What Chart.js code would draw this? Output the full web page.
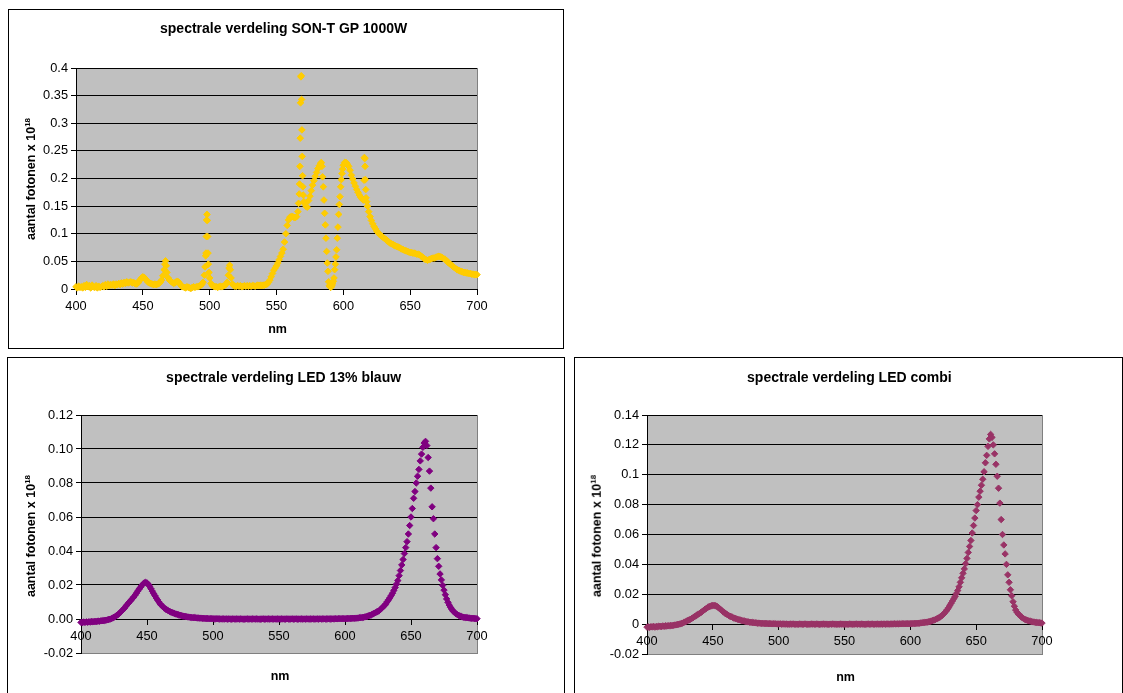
<!DOCTYPE html>
<html>
<head>
<meta charset="utf-8">
<script src="https://cdn.jsdelivr.net/npm/chart.js@4.4.1/dist/chart.umd.min.js"></script>
<style>
  body { margin: 0; width: 1123px; height: 693px; overflow: hidden; position: relative; background: #fff;
         font-family: 'Liberation Sans', Arial, sans-serif; }
  .box { position: absolute; border: 1px solid #000; box-sizing: border-box; background: #fff; }
  .box canvas { position: absolute; left: 0; top: 0; }
  .lbl { position: absolute; transform: translate(-50%, -50%); white-space: nowrap; font-weight: bold; color: #000; line-height: 1; }
  .title { font-size: 14px; }
  .axt { font-size: 12.5px; }
  .yt { transform: translate(-50%, -50%) rotate(-90deg); }
  .yt sup { font-size: 8px; vertical-align: 5px; line-height: 0; }
</style>
</head>
<body>

<div class="box" style="left:8px;top:9px;width:556px;height:340px"><canvas id="sont" width="554" height="338"></canvas></div>
<div class="box" style="left:7px;top:357px;width:558px;height:345px"><canvas id="led13" width="556" height="343"></canvas></div>
<div class="box" style="left:574px;top:357px;width:549px;height:345px"><canvas id="ledCombi" width="547" height="343"></canvas></div>

<div class="lbl title" style="left:283.6px;top:28.3px">spectrale verdeling SON-T GP 1000W</div>
<div class="lbl axt" style="left:277.5px;top:329.3px">nm</div>
<div class="lbl axt yt" style="left:31px;top:179px">aantal fotonen x 10<sup>18</sup></div>

<div class="lbl title" style="left:283.6px;top:377.3px">spectrale verdeling LED 13% blauw</div>
<div class="lbl axt" style="left:280px;top:676px">nm</div>
<div class="lbl axt yt" style="left:31px;top:535.8px">aantal fotonen x 10<sup>18</sup></div>

<div class="lbl title" style="left:849.4px;top:377.3px">spectrale verdeling LED combi</div>
<div class="lbl axt" style="left:845.5px;top:676.7px">nm</div>
<div class="lbl axt yt" style="left:597px;top:535.8px">aantal fotonen x 10<sup>18</sup></div>

<script>
// ---- data ----
const nmTicks = [400, 450, 500, 550, 600, 650, 700];
const sontYTicks = [0, 0.05, 0.1, 0.15, 0.2, 0.25, 0.3, 0.35, 0.4];
const led13YTicks = [-0.02, 0, 0.02, 0.04, 0.06, 0.08, 0.1, 0.12];
const ledCombiYTicks = [-0.02, 0, 0.02, 0.04, 0.06, 0.08, 0.1, 0.12, 0.14];

// SON-T: wavelengths (nm) and photon counts, denser around the emission lines
const sontNm = [
  400,401,402,403,404,405,406,407,408,409,410,411,412,413,414,415,416,417,418,419,
  420,421,422,423,424,425,426,427,428,429,430,431,432,433,434,435,436,437,438,439,
  440,441,442,443,444,445,446,447,448,449,450,451,452,453,454,455,456,457,458,459,
  460,461,462,463,464,465,466,466.5,467,467.5,468,469,470,471,472,473,474,475,476,477,478,479,
  480,481,482,483,484,485,486,487,488,489,490,491,492,493,494,495,496,
  496.5,497,497.25,497.5,497.75,498,498.25,498.5,498.75,499,499.5,500,501,502,
  503,504,505,506,507,508,509,510,511,512,513,
  514,514.5,515,515.5,516,517,518,519,
  520,521,522,523,524,525,526,527,528,529,530,531,532,533,534,535,536,537,538,539,
  540,541,542,543,544,545,546,547,548,549,550,551,552,553,554,555,556,557,558,559,
  560,561,562,563,564,565,566,566.5,
  567,567.25,567.5,567.75,568,568.25,568.5,568.75,569,569.25,569.5,569.75,570,570.5,571,572,573,
  574,575,576,577,578,579,580,581,582,583,583.5,
  584,584.5,585,585.5,586,586.5,587,587.5,588,588.5,589,589.5,590,590.5,591,591.5,592,592.5,593,593.5,
  594,594.5,595,595.5,596,596.5,597,597.5,598,598.5,599,599.5,600,
  601,602,603,604,605,606,607,608,609,610,611,612,613,614,615,
  615.5,615.75,616,616.25,616.5,616.75,617,617.5,618,
  619,620,621,622,623,624,625,626,627,628,629,630,631,632,633,634,635,636,637,638,639,640,
  641,642,643,644,645,646,647,648,649,650,651,652,653,654,655,656,657,658,659,660,661,662,663,664,665,666,667,668,669,670,
  671,672,673,674,675,676,677,678,679,680,681,682,683,684,685,686,687,688,689,690,691,692,693,694,695,696,697,698,699,700
];
const sontVal = [
  .004,.002,.005,.003,.004,.002,.006,.003,.008,.004,.006,.002,.007,.004,.003,.006,.002,.005,.003,.004,
  .006,.004,.008,.005,.009,.006,.008,.007,.009,.006,.009,.008,.010,.008,.011,.009,.012,.010,.013,.011,
  .012,.013,.011,.012,.010,.009,.010,.013,.017,.020,.022,.021,.018,.015,.012,.011,.010,.009,.008,.009,
  .008,.009,.010,.012,.016,.024,.035,.045,.051,.042,.030,.020,.016,.014,.012,.010,.011,.013,.014,.012,.008,.005,
  .004,.003,.002,.004,.003,.002,.001,.003,.004,.003,.004,.004,.005,.006,.008,.012,.025,
  .040,.060,.065,.095,.125,.135,.124,.095,.065,.045,.030,.020,.010,.006,
  .005,.004,.004,.003,.004,.005,.004,.005,.006,.008,.012,
  .025,.038,.043,.035,.020,.009,.006,.005,
  .005,.006,.005,.006,.004,.005,.006,.005,.006,.005,.006,.005,.006,.006,.005,.006,.007,.006,.007,.006,
  .007,.007,.008,.009,.012,.016,.022,.028,.034,.038,.042,.047,.053,.059,.065,.072,.085,.100,.115,.125,
  .130,.131,.131,.130,.129,.131,.140,.155,
  .172,.190,.222,.273,.337,.384,.386,.343,.288,.240,.205,.185,.170,.158,.155,.150,.148,
  .160,.168,.178,.188,.196,.204,.211,.218,.223,.227,.229,
  .222,.203,.185,.161,.137,.116,.092,.068,.047,.032,.013,.006,.004,.003,.004,.007,.010,.014,.020,.035,
  .045,.058,.071,.092,.112,.135,.153,.167,.185,.198,.209,.217,.224,
  .229,.229,.226,.222,.215,.206,.199,.192,.186,.180,.175,.170,.166,.163,.161,
  .197,.238,.236,.222,.198,.180,.165,.158,.150,
  .140,.131,.124,.118,.113,.109,.105,.102,.099,.097,.095,.093,.091,.089,.087,.085,.083,.082,.081,.079,.078,.077,
  .076,.075,.073,.072,.071,.070,.069,.068,.067,.066,.066,.065,.065,.064,.063,.063,.062,.060,.058,.056,.054,.053,.052,.053,.054,.055,.056,.056,.057,.058,
  .059,.059,.058,.057,.055,.054,.052,.049,.047,.045,.043,.041,.039,.037,.035,.034,.033,.032,.031,.030,.030,.029,.029,.028,.028,.027,.027,.026,.026,.026
];

// LED spectra, one value per nm from 400 to 700
const ledNm = [
  400,401,402,403,404,405,406,407,408,409, 410,411,412,413,414,415,416,417,418,419,
  420,421,422,423,424,425,426,427,428,429, 430,431,432,433,434,435,436,437,438,439,
  440,441,442,443,444,445,446,447,448,449, 450,451,452,453,454,455,456,457,458,459,
  460,461,462,463,464,465,466,467,468,469, 470,471,472,473,474,475,476,477,478,479,
  480,481,482,483,484,485,486,487,488,489, 490,491,492,493,494,495,496,497,498,499,
  500,501,502,503,504,505,506,507,508,509, 510,511,512,513,514,515,516,517,518,519,
  520,521,522,523,524,525,526,527,528,529, 530,531,532,533,534,535,536,537,538,539,
  540,541,542,543,544,545,546,547,548,549, 550,551,552,553,554,555,556,557,558,559,
  560,561,562,563,564,565,566,567,568,569, 570,571,572,573,574,575,576,577,578,579,
  580,581,582,583,584,585,586,587,588,589, 590,591,592,593,594,595,596,597,598,599,
  600,601,602,603,604,605,606,607,608,609, 610,611,612,613,614,615,616,617,618,619,
  620,621,622,623,624,625,626,627,628,629, 630,631,632,633,634,635,636,637,638,639,
  640,641,642,643,644,645,646,647,648,649, 650,651,652,653,654,655,656,657,658,659,
  660,661,662,663,664,665,666,667,668,669, 670,671,672,673,674,675,676,677,678,679,
  680,681,682,683,684,685,686,687,688,689, 690,691,692,693,694,695,696,697,698,699,
  700
];
const led13Val = [
  -.0020,-.0021,-.0018,-.0020,-.0017,-.0019,-.0016,-.0018,-.0015,-.0016,
  -.0015,-.0014,-.0015,-.0012,-.0013,-.0011,-.0010,-.0010,-.0008,-.0007,
  -.0005,-.0003,-.0001,.0002,.0006,.0010,.0015,.0020,.0026,.0033,
  .0040,.0048,.0056,.0065,.0075,.0085,.0094,.0103,.0112,.0121,
  .0130,.0141,.0152,.0164,.0175,.0186,.0197,.0206,.0213,.0215,
  .0212,.0204,.0192,.0178,.0164,.0150,.0137,.0124,.0112,.0100,
  .0089,.0080,.0072,.0065,.0059,.0054,.0049,.0045,.0041,.0038,
  .0035,.0032,.0029,.0027,.0025,.0022,.0020,.0018,.0016,.0015,
  .0013,.0012,.0011,.0010,.0009,.0008,.0008,.0007,.0006,.0006,
  .0005,.0005,.0004,.0004,.0003,.0003,.0003,.0002,.0002,.0002,
  .0002,.0001,.0001,.0002,.0001,.0001,.0000,.0001,.0001,.0000,
  .0001,.0000,.0001,.0000,.0000,.0001,.0000,.0000,.0001,.0000,
  .0000,.0001,.0000,-.0001,.0000,.0000,.0001,.0000,.0000,.0000,
  .0001,.0000,.0000,.0001,.0000,-.0001,.0000,.0000,.0001,.0000,
  .0000,.0000,.0001,.0000,.0000,.0001,.0000,.0000,.0000,.0001,
  .0000,.0000,.0001,.0000,.0000,.0000,.0001,.0000,.0000,.0000,
  .0001,.0000,.0000,.0001,.0000,.0000,.0000,.0001,.0000,.0000,
  .0000,.0001,.0000,.0000,.0001,.0000,.0001,.0000,.0000,.0001,
  .0000,.0001,.0000,.0001,.0001,.0000,.0001,.0001,.0001,.0001,
  .0001,.0001,.0001,.0002,.0001,.0002,.0002,.0002,.0002,.0002,
  .0002,.0002,.0003,.0003,.0003,.0004,.0004,.0004,.0005,.0005,
  .0006,.0007,.0008,.0009,.0010,.0012,.0014,.0016,.0019,.0022,
  .0025,.0029,.0033,.0037,.0041,.0045,.0050,.0057,.0065,.0072,
  .0080,.0090,.0102,.0113,.0125,.0138,.0152,.0168,.0185,.0205,
  .0226,.0255,.0285,.0318,.0350,.0385,.0420,.0455,.0500,.0550,
  .0600,.0650,.0710,.0750,.0800,.0840,.0880,.0930,.0970,.1010,
  .1035,.1045,.1020,.0950,.0870,.0770,.0660,.0590,.0500,.0420,
  .0355,.0310,.0265,.0230,.0198,.0170,.0143,.0118,.0098,.0082,
  .0068,.0056,.0046,.0038,.0031,.0026,.0022,.0018,.0015,.0012,
  .0010,.0009,.0008,.0007,.0006,.0005,.0004,.0004,.0003,.0002,
  .0002
];
const ledCombiVal = [
  -.0020,-.0018,-.0022,-.0017,-.0019,-.0015,-.0020,-.0016,-.0018,-.0014,
  -.0015,-.0017,-.0012,-.0015,-.0011,-.0013,-.0010,-.0012,-.0009,-.0010,
  -.0008,-.0006,-.0005,-.0003,-.0001,.0001,.0004,.0007,.0011,.0015,
  .0020,.0024,.0028,.0033,.0038,.0043,.0049,.0055,.0061,.0067,
  .0072,.0078,.0085,.0092,.0099,.0105,.0111,.0116,.0120,.0123,
  .0125,.0125,.0123,.0120,.0113,.0105,.0097,.0089,.0081,.0075,
  .0069,.0063,.0058,.0053,.0049,.0045,.0041,.0038,.0035,.0032,
  .0029,.0027,.0024,.0022,.0020,.0018,.0016,.0015,.0013,.0012,
  .0011,.0010,.0009,.0008,.0007,.0007,.0006,.0005,.0005,.0004,
  .0004,.0004,.0003,.0003,.0003,.0002,.0002,.0002,.0002,.0001,
  .0001,.0002,.0000,.0001,.0001,.0000,.0001,-.0001,.0000,.0001,
  .0000,.0001,.0000,.0000,-.0001,.0000,.0001,.0000,.0000,.0000,
  .0001,.0000,.0000,-.0001,.0000,.0001,.0000,.0000,.0000,.0001,
  .0000,-.0001,.0000,.0000,.0001,.0000,.0000,.0000,-.0001,.0000,
  .0000,.0001,.0000,.0000,.0000,-.0001,.0000,.0001,.0000,.0000,
  .0000,.0000,-.0001,.0000,.0001,.0000,.0000,.0000,.0000,.0001,
  .0000,.0000,.0000,.0001,.0000,-.0001,.0000,.0000,.0001,.0000,
  .0000,.0001,.0000,.0000,.0000,.0001,.0000,.0000,.0001,.0000,
  .0001,.0000,.0001,.0001,.0000,.0001,.0001,.0001,.0002,.0001,
  .0002,.0001,.0002,.0002,.0002,.0002,.0003,.0002,.0003,.0003,
  .0003,.0003,.0004,.0004,.0005,.0005,.0006,.0007,.0008,.0009,
  .0010,.0011,.0013,.0014,.0016,.0018,.0021,.0024,.0027,.0031,
  .0035,.0040,.0045,.0050,.0057,.0065,.0075,.0085,.0097,.0110,
  .0125,.0140,.0155,.0170,.0185,.0205,.0225,.0250,.0280,.0310,
  .0340,.0370,.0405,.0440,.0480,.0520,.0560,.0610,.0660,.0710,
  .0760,.0800,.0850,.0890,.0930,.0970,.1020,.1080,.1130,.1190,
  .1240,.1270,.1250,.1200,.1140,.1070,.0990,.0910,.0810,.0700,
  .0600,.0530,.0470,.0400,.0330,.0280,.0230,.0190,.0150,.0120,
  .0095,.0080,.0068,.0060,.0050,.0043,.0037,.0032,.0028,.0025,
  .0022,.0020,.0017,.0015,.0014,.0012,.0011,.0010,.0009,.0008,
  .0007
];

// ---- drawing ----
Chart.defaults.font.family = "'Liberation Sans', Arial, sans-serif";
Chart.defaults.font.size = 12.8;
Chart.defaults.color = '#000';

// grey plot area with a grey frame, as in Excel
const plotArea = {
    id: 'plotArea',
    beforeDraw(chart) {
        const { ctx, chartArea: a } = chart;
        ctx.save();
        ctx.fillStyle = '#c0c0c0';
        ctx.fillRect(a.left, a.top, a.right - a.left + 1, a.bottom - a.top + 1);
        ctx.strokeStyle = '#808080';
        ctx.lineWidth = 1;
        ctx.strokeRect(a.left + 0.5, a.top + 0.5, a.right - a.left, a.bottom - a.top);
        ctx.restore();
    }
};

function createSpectrumChart(canvasId, nm, values, color, yTicks, formatY, padding, radius) {
    const ctx = document.getElementById(canvasId).getContext('2d');
    return new Chart(ctx, {
        type: 'scatter',
        data: {
            datasets: [{
                data: nm.map((x, i) => ({ x, y: values[i] })),
                pointStyle: 'rectRot',
                pointRadius: radius,
                pointBorderWidth: 1,
                pointBackgroundColor: color,
                pointBorderColor: color,
                showLine: false,
                clip: false,
            }],
        },
        options: {
            responsive: false,
            animation: false,
            events: [],
            layout: { padding },
            plugins: { legend: { display: false }, tooltip: { enabled: false } },
            scales: {
                x: {
                    type: 'linear',
                    position: { y: 0 },
                    min: nmTicks[0],
                    max: nmTicks[nmTicks.length - 1],
                    afterBuildTicks: s => { s.ticks = nmTicks.map(v => ({ value: v })); },
                    ticks: { padding: 5, maxRotation: 0, autoSkip: false },
                    grid: { drawOnChartArea: false, color: '#000', tickLength: 5 },
                    border: { color: '#000', width: 1 },
                },
                y: {
                    type: 'linear',
                    min: yTicks[0],
                    max: yTicks[yTicks.length - 1],
                    afterBuildTicks: s => { s.ticks = yTicks.map(v => ({ value: v })); },
                    afterFit: s => { s.width = 50; },
                    ticks: { padding: 3, callback: formatY },
                    grid: {
                        color: c => (c.tick && c.tick.value === yTicks[0]) ? 'rgba(0,0,0,0)' : '#000',
                        tickColor: '#000',
                        tickLength: 5,
                    },
                    border: { color: '#000', width: 1 },
                },
            },
        },
        plugins: [plotArea],
    });
}

const generalFormat = v => String(+v.toFixed(2));

createSpectrumChart('sont', sontNm, sontVal, '#ffcc00', sontYTicks, generalFormat,
    { left: 17, top: 58, right: 86, bottom: 59 }, 3.3);
createSpectrumChart('led13', ledNm, led13Val, '#800080', led13YTicks, v => v.toFixed(2),
    { left: 23, top: 57, right: 87, bottom: 48 }, 3.2);
createSpectrumChart('ledCombi', ledNm, ledCombiVal, '#993366', ledCombiYTicks, generalFormat,
    { left: 22, top: 57, right: 80, bottom: 47 }, 3.2);
</script>
</body>
</html>
